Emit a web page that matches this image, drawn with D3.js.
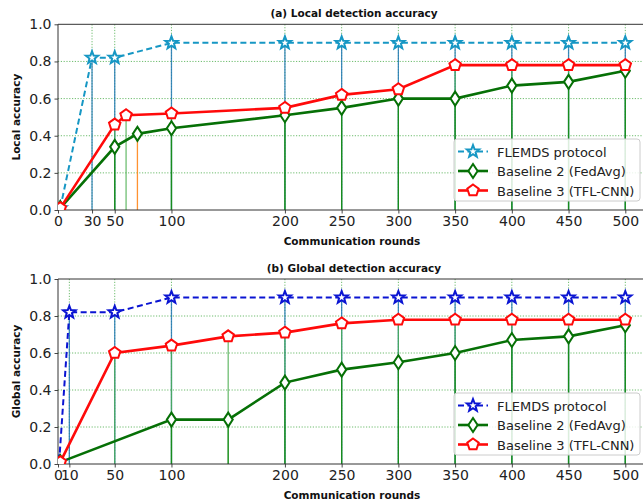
<!DOCTYPE html>
<html><head><meta charset="utf-8">
<script src="https://cdn.jsdelivr.net/npm/d3@7"></script>
<style>
html,body{margin:0;padding:0;background:#fff;}
svg{display:block;font-family:"DejaVu Sans",sans-serif;}
</style></head>
<body><svg id="chart" width="643" height="502"></svg>
<script>
// ---------- data ----------
const seriesNames = ["FLEMDS protocol", "Baseline 2 (FedAvg)", "Baseline 3 (TFL-CNN)"];

const localFlemdsX = [2, 30, 50, 100, 200, 250, 300, 350, 400, 450, 500];
const localFlemdsY = [0.01, 0.82, 0.82, 0.90, 0.90, 0.90, 0.90, 0.90, 0.90, 0.90, 0.90];
const localFedAvgX = [2, 50, 70, 100, 200, 250, 300, 350, 400, 450, 500];
const localFedAvgY = [0.01, 0.34, 0.41, 0.44, 0.51, 0.55, 0.60, 0.60, 0.67, 0.69, 0.75];
const localTflX = [2, 50, 60, 100, 200, 250, 300, 350, 400, 450, 500];
const localTflY = [0.01, 0.46, 0.51, 0.52, 0.55, 0.62, 0.65, 0.78, 0.78, 0.78, 0.78];
const localTicksX = [0, 30, 50, 100, 200, 250, 300, 350, 400, 450, 500];

const globalFlemdsX = [1, 10, 50, 100, 200, 250, 300, 350, 400, 450, 500];
const globalFlemdsY = [0.01, 0.82, 0.82, 0.90, 0.90, 0.90, 0.90, 0.90, 0.90, 0.90, 0.90];
const globalFedAvgX = [2, 100, 150, 200, 250, 300, 350, 400, 450, 500];
const globalFedAvgY = [0.01, 0.24, 0.24, 0.44, 0.51, 0.55, 0.60, 0.67, 0.69, 0.75];
const globalTflX = [2, 50, 100, 150, 200, 250, 300, 350, 400, 450, 500];
const globalTflY = [0.01, 0.60, 0.64, 0.69, 0.71, 0.76, 0.78, 0.78, 0.78, 0.78, 0.78];
const globalTicksX = [0, 10, 50, 100, 200, 250, 300, 350, 400, 450, 500];

const yTicks = [0, 0.2, 0.4, 0.6, 0.8, 1.0];

// ---------- drawing ----------
const svg = d3.select("#chart");
const X0 = 58, XPX = 1.1346;

function zip(xs, ys){ return xs.map((x,i)=>({x:x, y:ys[i]})); }

function starPath(r){
  const pts=[]; const ri=r*0.42;
  for(let i=0;i<10;i++){const a=-Math.PI/2+i*Math.PI/5; const rr=i%2?ri:r; pts.push([rr*Math.cos(a), rr*Math.sin(a)]);}
  return "M"+pts.map(p=>p[0].toFixed(2)+","+p[1].toFixed(2)).join("L")+"Z";
}
function pentPath(r){
  const pts=[];
  for(let i=0;i<5;i++){const a=-Math.PI/2+i*2*Math.PI/5; pts.push([r*Math.cos(a), r*Math.sin(a)]);}
  return "M"+pts.map(p=>p[0].toFixed(2)+","+p[1].toFixed(2)).join("L")+"Z";
}
function diamPath(w,h){ return `M0,${-h}L${w},0L0,${h}L${-w},0Z`; }

function panel(cfg){
  const g = svg.append("g");
  const x = d3.scaleLinear().domain([0,520]).range([X0, X0+520*XPX]);
  const y = d3.scaleLinear().domain([0,1]).range([cfg.bottom, cfg.top]);
  const clipId = "clip"+cfg.id;
  svg.append("clipPath").attr("id",clipId).append("rect")
     .attr("x",X0).attr("y",cfg.top).attr("width",520*XPX).attr("height",cfg.bottom-cfg.top);

  // grid
  const grid = g.append("g").attr("stroke","#2ca02c").attr("stroke-width",0.8).attr("stroke-dasharray","1.2,1.6").attr("opacity",0.85);
  grid.selectAll(".hg").data(yTicks.filter(v=>v>0&&v<1)).join("line")
    .attr("x1",X0).attr("x2",X0+520*XPX).attr("y1",d=>y(d)).attr("y2",d=>y(d));
  grid.selectAll(".vg").data(cfg.ticks.filter(v=>v>0)).join("line")
    .attr("x1",d=>x(d)).attr("x2",d=>x(d)).attr("y1",cfg.top).attr("y2",cfg.bottom);

  // stems
  const stems = g.append("g").attr("clip-path",`url(#${clipId})`);
  function drawStems(data,color,w,op,special){
    stems.append("g").selectAll("line").data(data.filter(d=>d.x>5)).join("line")
      .attr("x1",d=>x(d.x)).attr("x2",d=>x(d.x)).attr("y1",y(0)).attr("y2",d=>y(d.y))
      .attr("stroke",d=>(special && special.includes(d.x)) ? "#ff7f0e" : color).attr("stroke-width",w).attr("opacity",op);
  }
  drawStems(cfg.s[0].data, "#1f77b4", 1.3, 0.85);
  drawStems(cfg.s[2].data, "#4caf50", 1.3, 0.8);
  drawStems(cfg.s[1].data, "#118811", 1.3, 0.85, cfg.orangeStem);

  // axes
  const xa = d3.axisBottom(x).tickValues(cfg.ticks).tickFormat(d3.format("d")).tickSize(3.5).tickPadding(3);
  const gx = g.append("g").attr("transform",`translate(0,${cfg.bottom})`).call(xa);
  const ya = d3.axisLeft(y).tickValues(yTicks).tickFormat(d3.format(".1f")).tickSize(3.5).tickPadding(3);
  const gy = g.append("g").attr("transform",`translate(${X0},0)`).call(ya);
  [gx,gy].forEach(a=>{
    a.select(".domain").remove();
    a.selectAll("line").attr("stroke","#333").attr("stroke-width",0.9);
    a.selectAll("text").attr("font-size",14).attr("fill","#222").attr("font-family","DejaVu Sans");
  });
  // spines
  g.append("line").attr("x1",X0).attr("x2",X0+520*XPX).attr("y1",cfg.top).attr("y2",cfg.top).attr("stroke","#333").attr("stroke-width",1);
  g.append("line").attr("x1",X0).attr("x2",X0+520*XPX).attr("y1",cfg.bottom).attr("y2",cfg.bottom).attr("stroke","#333").attr("stroke-width",1);
  g.append("line").attr("x1",X0).attr("x2",X0).attr("y1",cfg.top).attr("y2",cfg.bottom).attr("stroke","#333").attr("stroke-width",1);

  // lines + markers
  const lg = g.append("g").attr("clip-path",`url(#${clipId})`);
  const line = d3.line().x(d=>x(d.x)).y(d=>y(d.y));
  cfg.s.forEach(s=>{
    lg.append("path").datum(s.data).attr("d",line).attr("fill","none")
      .attr("stroke",s.color).attr("stroke-width",s.lw).attr("stroke-dasharray",s.dash||null);
  });
  cfg.s.forEach(s=>{
    lg.append("g").selectAll("path").data(s.data).join("path")
      .attr("d",s.marker).attr("transform",d=>`translate(${x(d.x)},${y(d.y)})`)
      .attr("fill","#fff").attr("stroke",s.color).attr("stroke-width",2);
  });

  // title & labels
  const cx = X0 + 520*XPX/2;
  g.append("text").attr("x",cx+1).attr("y",cfg.top-7).attr("text-anchor","middle")
    .attr("font-size",10.5).attr("font-weight","bold").attr("fill","#111").text(cfg.title);
  g.append("text").attr("x",cx-1).attr("y",cfg.bottom+35).attr("text-anchor","middle")
    .attr("font-size",10.5).attr("font-weight","bold").attr("fill","#111").text("Communication rounds");
  g.append("text").attr("transform",`translate(20,${(cfg.top+cfg.bottom)/2}) rotate(-90)`).attr("text-anchor","middle")
    .attr("font-size",10.5).attr("font-weight","bold").attr("fill","#111").text(cfg.ylabel);

  // legend
  const L = g.append("g").attr("transform",`translate(454,${cfg.legTop})`);
  L.append("rect").attr("width",186).attr("height",62).attr("rx",3).attr("fill","#fff").attr("fill-opacity",0.85)
    .attr("stroke","#cccccc").attr("stroke-width",1);
  cfg.s.forEach((s,i)=>{
    const yy = 12.5 + i*19.5;
    L.append("line").attr("x1",4).attr("x2",34).attr("y1",yy).attr("y2",yy)
      .attr("stroke",s.color).attr("stroke-width",s.lw).attr("stroke-dasharray",s.dash||null);
    L.append("path").attr("d",s.marker).attr("transform",`translate(19,${yy})`)
      .attr("fill","#fff").attr("stroke",s.color).attr("stroke-width",2);
    L.append("text").attr("x",43).attr("y",yy+5).attr("font-size",13).attr("fill","#222").text(seriesNames[i]);
  });
}

const star = starPath(6.5), pent = pentPath(6), diam = diamPath(4.6,7);

panel({id:"a", top:24.3, bottom:210, title:"(a) Local detection accuracy", ylabel:"Local accuracy",
  ticks: localTicksX, legTop:139, orangeStem:[70],
  s:[
    {data:zip(localFlemdsX,localFlemdsY), color:"#1697c4", lw:2, dash:"6,3.5", marker:star},
    {data:zip(localFedAvgX,localFedAvgY), color:"#067006", lw:2.6, marker:diam},
    {data:zip(localTflX,localTflY), color:"#ff0a0a", lw:2.6, marker:pent}
  ]});

panel({id:"b", top:279, bottom:464, title:"(b) Global detection accuracy", ylabel:"Global accuracy",
  ticks: globalTicksX, legTop:393, orangeStem:[],
  s:[
    {data:zip(globalFlemdsX,globalFlemdsY), color:"#0a14d2", lw:2, dash:"6,3.5", marker:star},
    {data:zip(globalFedAvgX,globalFedAvgY), color:"#067006", lw:2.6, marker:diam},
    {data:zip(globalTflX,globalTflY), color:"#ff0a0a", lw:2.6, marker:pent}
  ]});
</script>
</body></html>
